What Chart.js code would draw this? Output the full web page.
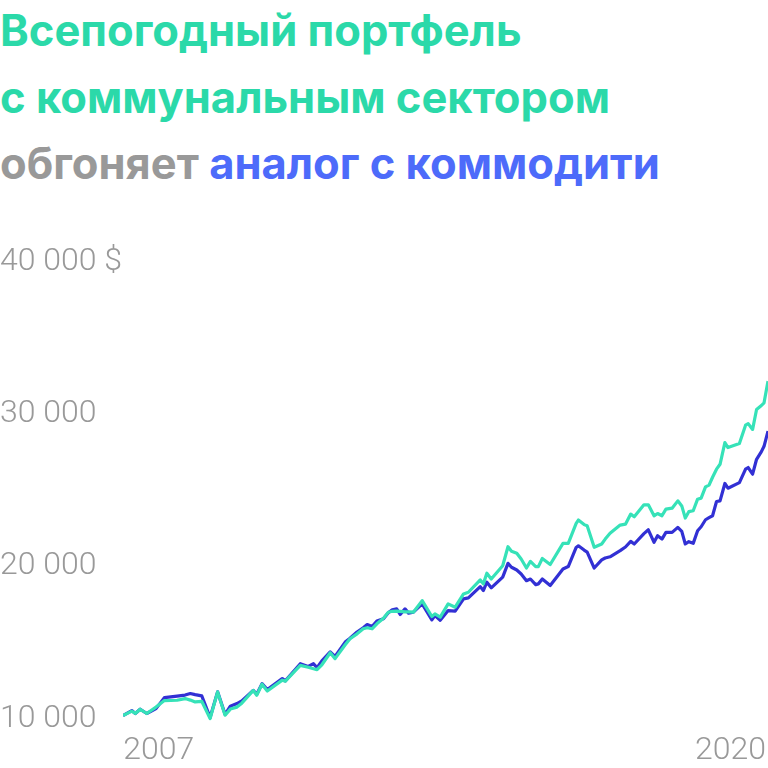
<!DOCTYPE html>
<html>
<head>
<meta charset="utf-8">
<script src="https://cdn.jsdelivr.net/npm/chart.js@4/dist/chart.umd.min.js"></script>
<style>
  body { margin: 0; background: #fff; width: 768px; height: 768px; overflow: hidden; position: relative; }
  #title {
    position: absolute; left: 0; top: -3px;
    font-family: Inter, sans-serif; font-weight: 700; font-size: 43.5px; line-height: 66.5px;
    color: #2bd9a9; white-space: nowrap;
  }
  #title .gray { color: #999999; }
  #title .blue { color: #4d6bfa; }
  #chart { position: absolute; left: 0; top: 230px; }
</style>
</head>
<body>
<div id="title">
  Всепогодный портфель<br>
  с коммунальным сектором<br>
  <span class="gray">обгоняет</span> <span class="blue">аналог с коммодити</span>
</div>
<canvas id="chart" width="768" height="538"></canvas>
<script>
// dates as decimal years, values in $
const dates = [
  2006.19, 2006.39, 2006.47, 2006.58, 2006.73, 2006.94, 2007.13, 2007.42, 2007.60, 2007.72,
  2007.83, 2007.98, 2008.17, 2008.34, 2008.51, 2008.63, 2008.78, 2008.89, 2009.15, 2009.23,
  2009.35, 2009.47, 2009.81, 2009.88, 2010.22, 2010.40, 2010.52, 2010.60, 2010.71, 2010.90,
  2011.01, 2011.24, 2011.35, 2011.51, 2011.65, 2011.74, 2011.85, 2011.96, 2012.11, 2012.22,
  2012.31, 2012.41, 2012.49, 2012.60, 2012.68, 2012.79, 2012.99, 2013.21, 2013.28, 2013.40,
  2013.58, 2013.74, 2013.93, 2014.04, 2014.31, 2014.38, 2014.46, 2014.56, 2014.82, 2014.94,
  2015.02, 2015.14, 2015.24, 2015.36, 2015.45, 2015.57, 2015.63, 2015.72, 2015.90, 2016.19,
  2016.31, 2016.49, 2016.54, 2016.67, 2016.74, 2016.90, 2017.07, 2017.15, 2017.26, 2017.49,
  2017.61, 2017.73, 2017.81, 2018.03, 2018.13, 2018.26, 2018.34, 2018.44, 2018.53, 2018.67,
  2018.80, 2018.89, 2018.97, 2019.05, 2019.15, 2019.25, 2019.33, 2019.43, 2019.51, 2019.59,
  2019.68, 2019.76, 2019.87, 2019.94, 2020.20, 2020.34, 2020.40, 2020.50, 2020.59, 2020.70,
  2020.76, 2020.85
];
const utilities = [
  10200, 10490, 10330, 10610, 10330, 10750, 11180, 11200, 11310, 11210,
  11090, 11130, 10000, 11750, 10220, 10620, 10750, 11010, 11850, 11530,
  12250, 11810, 12520, 12450, 13490, 13370, 13270, 13210, 13530, 14320,
  13930, 14840, 15240, 15560, 15890, 15960, 15890, 16220, 16580, 16980,
  17040, 17050, 17040, 17000, 17000, 16980, 17740, 16700, 16870, 16660,
  17530, 17310, 18180, 18290, 19100, 18840, 19540, 19160, 20030, 21280,
  20980, 20850, 20470, 19880, 20320, 19970, 19970, 20510, 20110, 21500,
  21500, 22810, 23030, 22730, 22650, 21240, 21460, 21780, 22160, 22700,
  22760, 23420, 23240, 24030, 24030, 23310, 23460, 23310, 23750, 23810,
  24290, 23960, 23160, 23580, 23640, 24400, 24470, 25210, 25320, 25840,
  26370, 26690, 28110, 27790, 28050, 29260, 29360, 28980, 30290, 30550,
  30730, 32150
];
const commodities = [
  10200, 10520, 10330, 10610, 10330, 10650, 11370, 11470, 11540, 11640,
  11570, 11490, 10070, 11750, 10280, 10810, 10980, 11160, 11850, 11590,
  12290, 11900, 12620, 12470, 13600, 13420, 13600, 13340, 13780, 14370,
  14080, 15020, 15270, 15680, 15960, 16170, 16040, 16400, 16550, 16940,
  17140, 17200, 16830, 17200, 16920, 16980, 17530, 16480, 16760, 16450,
  17090, 17050, 17860, 17920, 18660, 18400, 18950, 18580, 19280, 20190,
  19930, 19750, 19490, 19050, 19160, 18790, 18840, 19160, 18730, 19820,
  19980, 21230, 21340, 21060, 20930, 19880, 20410, 20540, 20620, 21020,
  21260, 21630, 21460, 22140, 22390, 21570, 22000, 21780, 22220, 22220,
  22550, 22290, 21460, 21610, 21500, 22330, 22590, 23050, 23190, 23310,
  24250, 24290, 25430, 25120, 25490, 26370, 26480, 26040, 27020, 27520,
  27870, 28870
];
const xTicks = [2007, 2020];
const yTicks = [10000, 20000, 30000, 40000];
const yTickLabels = ["10 000", "20 000", "30 000", "40 000 $"];

const axisFont = { family: "Roboto", size: 32, weight: "300" };

new Chart(document.getElementById("chart"), {
  type: "line",
  data: {
    datasets: [
      {
        label: "С коммунальным сектором",
        data: dates.map((d, i) => ({ x: d, y: utilities[i] })),
        borderColor: "#36e2b8",
        borderWidth: 3.2,
        order: 0
      },
      {
        label: "С коммодити",
        data: dates.map((d, i) => ({ x: d, y: commodities[i] })),
        borderColor: "#3230d4",
        borderWidth: 3.2,
        order: 1
      }
    ]
  },
  options: {
    responsive: false,
    animation: false,
    layout: { padding: 0 },
    elements: { point: { radius: 0 }, line: { tension: 0, borderJoinStyle: "round" } },
    plugins: { legend: { display: false }, tooltip: { enabled: false } },
    scales: {
      x: {
        type: "linear",
        min: dates[0],
        max: dates[dates.length - 1],
        grid: { display: false },
        border: { display: false },
        afterBuildTicks: s => { s.ticks = xTicks.map(v => ({ value: v })); },
        afterFit: s => { s.height = 40; },
        ticks: {
          autoSkip: false,
          maxRotation: 0,
          padding: -4,
          color: "#999999",
          font: axisFont,
          callback: v => String(v)
        }
      },
      y: {
        min: 9378,
        max: 40812,
        grid: { display: false },
        border: { display: false },
        afterBuildTicks: s => { s.ticks = yTicks.map(v => ({ value: v })); },
        afterFit: s => { s.width = 123; },
        ticks: {
          crossAlign: "far",
          padding: 0,
          color: "#999999",
          font: axisFont,
          callback: v => yTickLabels[yTicks.indexOf(v)]
        }
      }
    }
  }
});
</script>
</body>
</html>
